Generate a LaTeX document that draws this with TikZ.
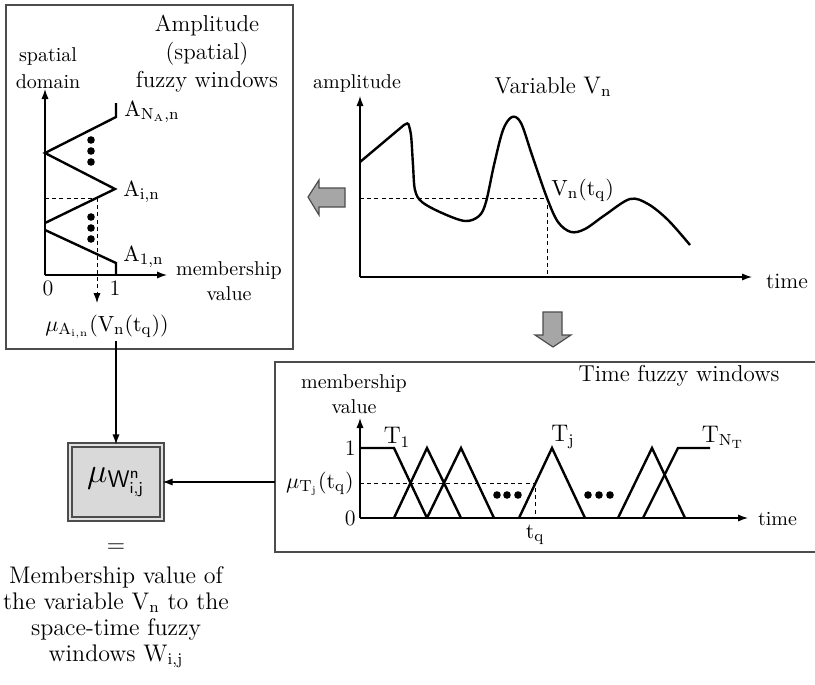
\documentclass[tikz,border=0pt]{standalone}
\usepackage{amsmath,amssymb}
\usetikzlibrary{arrows.meta, positioning, calc}

\begin{document}
\begin{tikzpicture}[x=0.5pt, y=-0.5pt, font=\fontsize{10}{12.5}\selectfont, >={Latex[length=5pt,width=3.6pt]},
    ax/.style={->, line width=0.6pt},
    mf/.style={line width=1.2pt, line join=miter},
    guide/.style={dash pattern=on 2pt off 1.6pt, line width=0.5pt},
    frame/.style={draw=black!70, line width=0.7pt},
    title/.style={font=\fontsize{11.5}{14}\selectfont, align=center},
    lbl/.style={font=\fontsize{11}{13}\selectfont, inner sep=1pt},
    dot/.style={circle, fill, inner sep=0pt, minimum size=3.8pt},
    fat/.style={fill=black!35, draw=black!70, line width=0.6pt, line join=miter}]
    \useasboundingbox (0,0) rectangle (815,685);

    % amplitude (spatial) windows
    \draw[frame] (6,5) rectangle (293,349);
    \node[title] (amptitle) at (207,54) {Amplitude\\(spatial)\\fuzzy windows};
    \node[align=center, font=\fontsize{10}{13.5}\selectfont] (spdom) at (48,68) {spatial\\domain};
    \coordinate (oA) at (45,275);
    \draw[ax] (oA) -- (45,89);
    \draw[ax] (oA) -- (167,275);
    \node[align=center] (mvA) at (229,281) {membership\\value};
    \node[lbl] (zeroA) at (48,288) {0};
    \node[lbl] (oneA) at (115,288) {1};
    \draw[mf] (116,103) -- (116,117) -- (45,153) -- (115,189) -- (45,223);
    \draw[mf] (45,230) -- (116,263) -- (116,275);
    \foreach \y in {140,151,162,217,228,239}
        \node[dot] at (91,\y) {};
    \coordinate (vq) at (97,198);
    \draw[guide] (45,198) -- (vq);
    \draw[guide, ->] (vq) -- (97,303);
    \node[lbl, anchor=west] (aN) at (122,112) {$\mathrm{A}_{\mathrm{N_A,n}}$};
    \node[lbl, anchor=west] (ai) at (121,192) {$\mathrm{A}_{\mathrm{i,n}}$};
    \node[lbl, anchor=west] (a1) at (121,257) {$\mathrm{A}_{\mathrm{1,n}}$};
    \node[lbl] (muA) at (107,327) {$\mu_{\mathrm{A}_{\mathrm{i,n}}}(\mathrm{V_n(t_q)})$};

    % variable V_n
    \node[title] (vartitle) at (553,87) {Variable $\mathrm{V_n}$};
    \coordinate (oV) at (360,277);
    \draw[ax] (oV) -- (360,96);
    \draw[ax] (oV) -- (752,277);
    \node (amp) at (357,84) {amplitude};
    \node[anchor=west, font=\fontsize{11}{13}\selectfont] (timeV) at (759,281) {time};
    \draw[mf, line join=round] (360,162) -- (404,125) -- (408,123)
        plot[smooth, tension=0.55] coordinates {(408,123) (411,135) (413,165) (415,190) (422,202)
        (442,213) (465,221) (479,216) (486,202) (494,165) (503,130) (512,117)
        (521,123) (532,155) (547,198) (558,222) (571,232) (585,229) (605,215)
        (630,199) (648,204) (668,220) (690,245)};
    \coordinate (vt) at (547,198);
    \draw[guide] (360,198) -- (vt) -- (547,277);
    \node[lbl, anchor=west] (vtq) at (549,190) {$\mathrm{V_n(t_q)}$};

    % fat arrows
    \draw[fat] (308,197) -- (319,180) -- (319,188) -- (345,188) -- (345,207) -- (319,207) -- (319,215) -- cycle;
    \draw[fat] (553,347) -- (535,335) -- (543,335) -- (543,312) -- (562,312) -- (562,335) -- (571,335) -- cycle;

    % time windows
    \draw[frame] (818,362) -- (275,362) -- (275,552) -- (818,552);
    \node[title] (timetitle) at (679,376) {Time fuzzy windows};
    \node[align=center] (mvT) at (354,394) {membership\\value};
    \coordinate (oT) at (360,518);
    \draw[ax] (oT) -- (360,418);
    \draw[ax] (oT) -- (748,518);
    \node[anchor=west] (timeT) at (751,519) {time};
    \node[lbl, anchor=east] (oneT) at (358,448) {1};
    \node[lbl, anchor=east] (zeroT) at (358,518) {0};
    \node[lbl, anchor=east] (muT) at (356,484) {$\mu_{\mathrm{T_j}}(\mathrm{t_q})$};
    \coordinate (tq) at (535,483);
    \draw[guide] (360,483) -- (tq) -- (535,518);
    \node[lbl] (tqlbl) at (535,535) {$\mathrm{t_q}$};
    \draw[mf] (360,448) -- (394,448) -- (427,518);
    \draw[mf] (394,518) -- (427,448) -- (461,518);
    \draw[mf] (427,518) -- (461,448) -- (494,518);
    \draw[mf] (519,518) -- (552,448) -- (585,518);
    \draw[mf] (618,518) -- (652,448) -- (685,518);
    \draw[mf] (643,518) -- (678,448) -- (710,448);
    \foreach \x in {497,507,518,588,599,610}
        \node[dot] at (\x,495) {};
    \node[lbl, font=\fontsize{12}{13}\selectfont] (t1) at (397,437) {$\mathrm{T_1}$};
    \node[lbl, font=\fontsize{12}{13}\selectfont] (tj) at (563,437) {$\mathrm{T_j}$};
    \node[lbl, font=\fontsize{12}{13}\selectfont] (tN) at (723,437) {$\mathrm{T_{N_T}}$};
    \coordinate (tin) at (275,482);

    % space-time membership
    \node[draw=black!70, line width=0.6pt, double=black!12, double distance=1.4pt, fill=black!15,
        minimum width=46pt, minimum height=37pt, font=\fontsize{17}{18}\selectfont] (muW) at (116,482)
        {$\mu_{\mathsf{W}^{\mathsf{n}}_{\mathsf{i,j}}}$};
    \draw[->, line width=0.6pt] (muA.south -| muW) -- (muW.north);
    \draw[->, line width=0.6pt] (tin) -- (muW.east);
    \node[font=\fontsize{12}{13}\selectfont] (eq) at (116,548) {$=$};
    \node[align=center, font=\fontsize{12}{13}\selectfont] (meaning) at (116,617)
        {Membership value of\\the variable $\mathrm{V_n}$ to the\\space-time fuzzy\\windows $\mathrm{W_{i,j}}$};
\end{tikzpicture}
\end{document}
